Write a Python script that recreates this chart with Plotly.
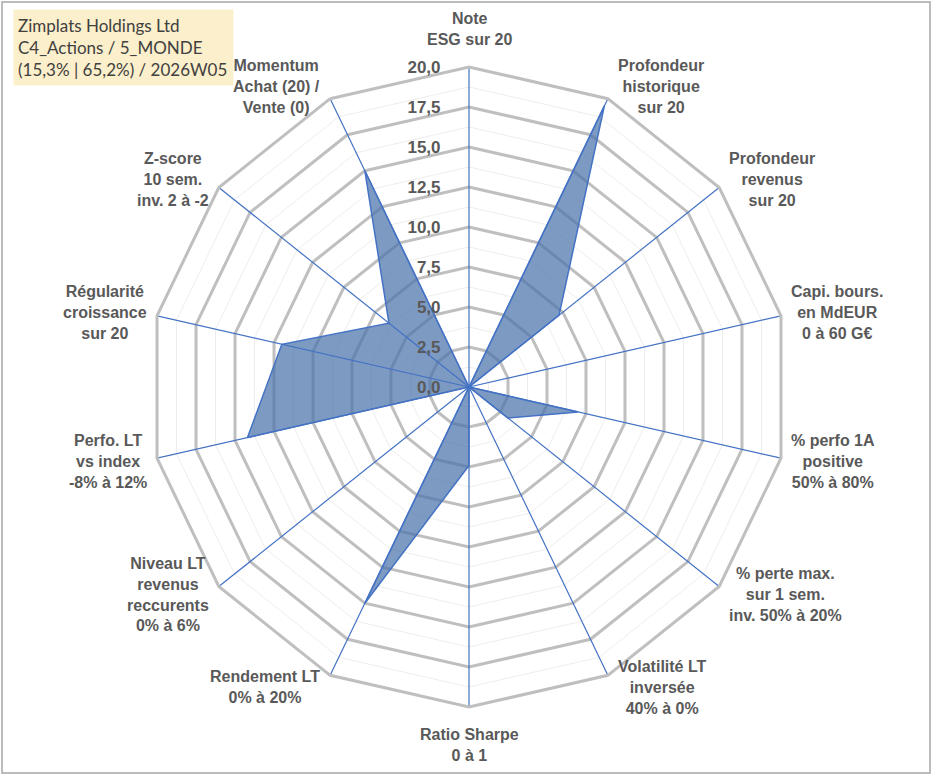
import math
import plotly.graph_objects as go

# axes du radar (sens horaire, en partant du haut)
categories = [
    "Note ESG", "Profondeur historique", "Profondeur revenus", "Capi. bours.",
    "% perfo 1A", "% perte max.", "Volatilité LT", "Ratio Sharpe",
    "Rendement LT", "Niveau LT revenus", "Perfo. LT", "Régularité croissance",
    "Z-score", "Momentum",
]
labels = [
    "Note<br>ESG sur 20",
    "Profondeur<br>historique<br>sur 20",
    "Profondeur<br>revenus<br>sur 20",
    "Capi. bours.<br>en MdEUR<br>0 à 60 G€",
    "% perfo 1A<br>positive<br>50% à 80%",
    "% perte max.<br>sur 1 sem.<br>inv. 50% à 20%",
    "Volatilité LT<br>inversée<br>40% à 0%",
    "Ratio Sharpe<br>0 à 1",
    "Rendement LT<br>0% à 20%",
    "Niveau LT<br>revenus<br>reccurents<br>0% à 6%",
    "Perfo. LT<br>vs index<br>-8% à 12%",
    "Régularité<br>croissance<br>sur 20",
    "Z-score<br>10 sem.<br>inv. 2 à -2",
    "Momentum<br>Achat (20) /<br>Vente (0)",
]
scores = [0, 19.5, 7.2, 0, 7.0, 3.1, 0, 4.9, 15.0, 0, 14.2, 12.0, 6.4, 15.0]

title_text = "Zimplats Holdings Ltd<br>C4_Actions / 5_MONDE<br>(15,3% | 65,2%) / 2026W05"

W, H = 933, 776
r_max = 20
step = 2.5

# centre et rayon du radar (pixels)
cx, cy, R = 469, 387, 320
dom_x = [(cx - R) / W, (cx + R) / W]
dom_y = [1 - (cy + R) / H, 1 - (cy - R) / H]

grey_txt = "#595959"
closed = categories + categories[:1]

fig = go.Figure()

# grille secondaire (entre les graduations)
lvl = step / 2
while lvl < r_max:
    fig.add_trace(go.Scatterpolar(
        r=[lvl] * len(closed), theta=closed, mode="lines",
        line=dict(color="#EDEDED", width=1), hoverinfo="skip", showlegend=False))
    lvl += step

fig.add_trace(go.Scatterpolar(
    r=scores + scores[:1], theta=closed, mode="lines", fill="toself",
    fillcolor="rgba(75,115,170,0.72)", line=dict(color="#4472C4", width=1.5),
    showlegend=False))

# rayons bleus par-dessus la série
sp_r, sp_t = [], []
for c in categories:
    sp_r += [0, r_max, None]
    sp_t += [c, c, None]
fig.add_trace(go.Scatterpolar(
    r=sp_r, theta=sp_t, mode="lines", line=dict(color="#4472C4", width=1.2),
    hoverinfo="skip", showlegend=False, connectgaps=False))

fig.update_layout(
    width=W, height=H,
    margin=dict(l=0, r=0, t=0, b=0),
    paper_bgcolor="white",
    separators=",.",
    polar=dict(
        domain=dict(x=dom_x, y=dom_y),
        bgcolor="white",
        gridshape="linear",
        angularaxis=dict(
            direction="clockwise", rotation=90, showticklabels=False,
            ticks="", showline=True, linecolor="#BFBFBF", linewidth=3,
            showgrid=False,
        ),
        radialaxis=dict(
            range=[0, r_max], dtick=step, tickformat=".1f", angle=90,
            side="counterclockwise", tickangle=90, showline=False,
            ticks="outside", ticklen=22, tickcolor="rgba(0,0,0,0)",
            gridcolor="#BFBFBF", gridwidth=3,
            tickfont=dict(family="Liberation Sans", size=17, color=grey_txt,
                          weight="bold"),
        ),
    ),
    font=dict(family="Liberation Sans"),
)

# libellés des axes, posés à côté de chaque sommet (comme Excel)
n = len(categories)
for i, lab in enumerate(labels):
    a = 2 * math.pi * i / n
    vx = cx + R * math.sin(a)
    vy = cy - R * math.cos(a)
    s = math.sin(a)
    if abs(s) < 1e-6:
        up = math.cos(a) > 0
        x, y = vx, vy - 17 if up else vy + 17
        xa, ya = "center", ("bottom" if up else "top")
    else:
        x = vx + (8 if s > 0 else -8)
        y = vy - 13 * math.cos(a)
        xa, ya = ("left" if s > 0 else "right"), "middle"
    fig.add_annotation(
        text=lab, xref="paper", yref="paper", x=x / W, y=1 - y / H,
        xanchor=xa, yanchor=ya, align="center", showarrow=False,
        font=dict(family="Liberation Sans", size=16, color=grey_txt,
                  weight="bold"))

fig.add_annotation(
    text=title_text, xref="paper", yref="paper", x=13 / W, y=1 - 9 / H,
    xanchor="left", yanchor="top", align="left", showarrow=False,
    bgcolor="#FCEFCB", width=211, height=67, borderpad=4,
    font=dict(family="Lato", size=17, color="#404040"))

fig.add_shape(type="rect", xref="paper", yref="paper",
              x0=2 / W, y0=1 - 773 / H, x1=930 / W, y1=1 - 2 / H,
              line=dict(color="#A6A6A6", width=1.5))

fig.write_html("out.html", config={"displayModeBar": False},
               post_script="document.body.style.margin='0';"
                           "document.body.style.overflow='hidden';")
